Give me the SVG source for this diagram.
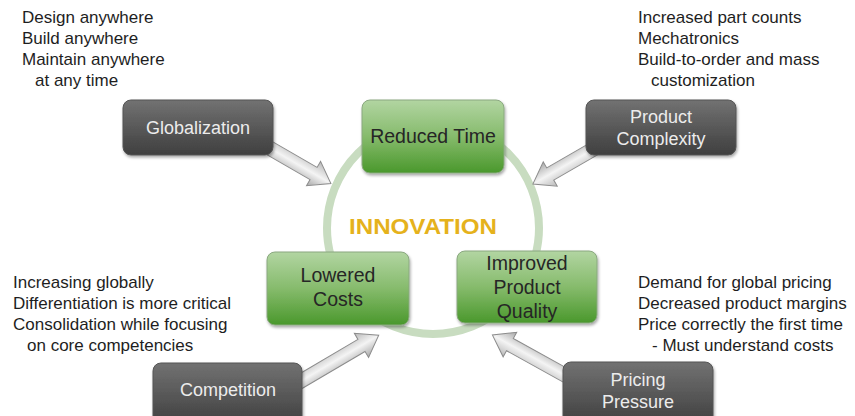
<svg xmlns="http://www.w3.org/2000/svg" width="855" height="416" viewBox="0 0 855 416">
<defs>
  <linearGradient id="gGray" x1="0" y1="0" x2="0" y2="1">
    <stop offset="0" stop-color="#727272"/>
    <stop offset="1" stop-color="#3f3f3f"/>
  </linearGradient>
  <linearGradient id="gGreen" x1="0" y1="0" x2="0" y2="1">
    <stop offset="0" stop-color="#b2d5a2"/>
    <stop offset="0.5" stop-color="#86bb6c"/>
    <stop offset="1" stop-color="#4a982c"/>
  </linearGradient>
  <linearGradient id="gArrow" x1="0" y1="0" x2="0" y2="1">
    <stop offset="0" stop-color="#b8b8b8"/>
    <stop offset="0.5" stop-color="#f4f4f4"/>
    <stop offset="1" stop-color="#a8a8a8"/>
  </linearGradient>
  <filter id="sh" x="-10%" y="-10%" width="130%" height="140%">
    <feGaussianBlur in="SourceAlpha" stdDeviation="1.5"/>
    <feOffset dx="1" dy="2" result="b"/>
    <feComponentTransfer><feFuncA type="linear" slope="0.35"/></feComponentTransfer>
    <feMerge><feMergeNode/><feMergeNode in="SourceGraphic"/></feMerge>
  </filter>
</defs>
<style>
  .note { font-family: "Liberation Sans", Arial, sans-serif; font-size: 17px; fill: #1e1e1e; }
  .gbox { fill: url(#gGray); stroke: #555; stroke-width: 1; filter: url(#sh); }
  .gtxt { font-family: "Liberation Sans", Arial, sans-serif; font-size: 18px; fill: #ececec; text-anchor: middle; }
  .vbox { fill: url(#gGreen); stroke: #8aa880; stroke-width: 1; filter: url(#sh); }
  .vtxt { font-family: "Liberation Sans", Arial, sans-serif; font-size: 19.5px; fill: #262626; text-anchor: middle; }
  .arrow { fill: url(#gArrow); stroke: #8c8c8c; stroke-width: 1; }
</style>
<rect width="855" height="416" fill="#ffffff"/>

<circle cx="433" cy="228" r="106" fill="none" stroke="#c8dcc0" stroke-width="8"/>
<text x="423" y="234" font-family="Liberation Sans, Arial, sans-serif" font-size="22" font-weight="bold" fill="#e5b21c" text-anchor="middle" textLength="148" lengthAdjust="spacingAndGlyphs">INNOVATION</text>

<g id="connectors">
  <polygon class="arrow" points="0,-7 63,-7 63,-14 83,0 63,14 63,7 0,7" transform="translate(259,142) rotate(30)"/>
  <polygon class="arrow" points="0,-7 54,-7 54,-14 74,0 54,14 54,7 0,7" transform="translate(597,147) rotate(150)"/>
  <polygon class="arrow" points="0,-7 76,-7 76,-14 96,0 76,14 76,7 0,7" transform="translate(296,384) rotate(-30.5)"/>
  <polygon class="arrow" points="0,-7 71,-7 71,-14 91,0 71,14 71,7 0,7" transform="translate(572,379) rotate(209)"/>
</g>

<g id="note-globalization">
  <text class="note" x="22" y="23">Design anywhere</text>
  <text class="note" x="22" y="44">Build anywhere</text>
  <text class="note" x="22" y="65">Maintain anywhere</text>
  <text class="note" x="35" y="86">at any time</text>
</g>
<g id="note-complexity">
  <text class="note" x="638" y="23">Increased part counts</text>
  <text class="note" x="638" y="44">Mechatronics</text>
  <text class="note" x="638" y="65">Build-to-order and mass</text>
  <text class="note" x="651" y="86">customization</text>
</g>
<g id="note-competition">
  <text class="note" x="13" y="288">Increasing globally</text>
  <text class="note" x="13" y="309">Differentiation is more critical</text>
  <text class="note" x="13" y="330">Consolidation while focusing</text>
  <text class="note" x="27" y="351">on core competencies</text>
</g>
<g id="note-pricing">
  <text class="note" x="638" y="288">Demand for global pricing</text>
  <text class="note" x="638" y="309">Decreased product margins</text>
  <text class="note" x="638" y="330">Price correctly the first time</text>
  <text class="note" x="652" y="351">- Must understand costs</text>
</g>

<g id="globalization">
  <rect class="gbox" x="123" y="100" width="150" height="55" rx="8"/>
  <text class="gtxt" x="198" y="134">Globalization</text>
</g>
<g id="product-complexity">
  <rect class="gbox" x="586" y="100" width="150" height="55" rx="8"/>
  <text class="gtxt" x="661" y="123">Product</text>
  <text class="gtxt" x="661" y="145">Complexity</text>
</g>
<g id="competition">
  <rect class="gbox" x="153" y="363" width="149" height="62" rx="8"/>
  <text class="gtxt" x="228" y="396">Competition</text>
</g>
<g id="pricing-pressure">
  <rect class="gbox" x="563" y="362" width="150" height="63" rx="8"/>
  <text class="gtxt" x="638" y="386">Pricing</text>
  <text class="gtxt" x="638" y="408">Pressure</text>
</g>

<g id="reduced-time">
  <rect class="vbox" x="362" y="100" width="142" height="73" rx="8"/>
  <text class="vtxt" x="433" y="143">Reduced Time</text>
</g>
<g id="lowered-costs">
  <rect class="vbox" x="267" y="252" width="142" height="73" rx="8"/>
  <text class="vtxt" x="338" y="282">Lowered</text>
  <text class="vtxt" x="338" y="306">Costs</text>
</g>
<g id="improved-quality">
  <rect class="vbox" x="457" y="251" width="140" height="72" rx="8"/>
  <text class="vtxt" x="527" y="270">Improved</text>
  <text class="vtxt" x="527" y="294">Product</text>
  <text class="vtxt" x="527" y="318">Quality</text>
</g>
</svg>
